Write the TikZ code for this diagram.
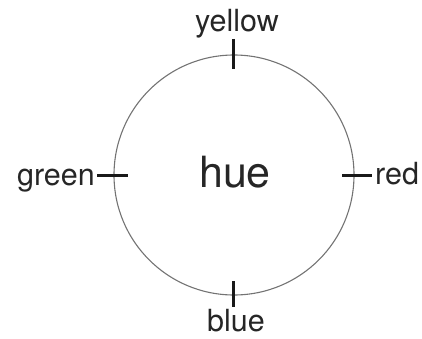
\documentclass[tikz,border=0pt]{standalone}
\usepackage{fontspec}
\setmainfont{TeX Gyre Heros}
\begin{document}
\begin{tikzpicture}[x=1pt,y=-1pt,
  lbl/.style={text=black!85, inner sep=0pt, font=\fontsize{30.5}{32}\selectfont},
  tick/.style={draw=black!90, line width=3pt},
  ring/.style={draw=black!55, line width=1.1pt}]
\useasboundingbox (0,0) rectangle (422,339);
\draw[ring] (234,175) circle (120);
\coordinate (tN1) at (233,39); \coordinate (tN2) at (233,69);
\coordinate (tS1) at (233,281); \coordinate (tS2) at (233,307);
\coordinate (tW1) at (97,175); \coordinate (tW2) at (128,175);
\coordinate (tE1) at (342,175); \coordinate (tE2) at (372,175);
\draw[tick] (tN1) -- (tN2);
\draw[tick] (tS1) -- (tS2);
\draw[tick] (tW1) -- (tW2);
\draw[tick] (tE1) -- (tE2);
\node[lbl, anchor=base] (yellow) at (237,32) {yellow};
\node[lbl, anchor=base east] (green) at (95,185) {green};
\node[lbl, anchor=base west] (red) at (375,184) {red};
\node[lbl, anchor=base] (blue) at (236,331) {blue};
\node[lbl, anchor=base, font=\fontsize{43}{45}\selectfont] (hue) at (235,187) {hue};
\end{tikzpicture}
\end{document}
